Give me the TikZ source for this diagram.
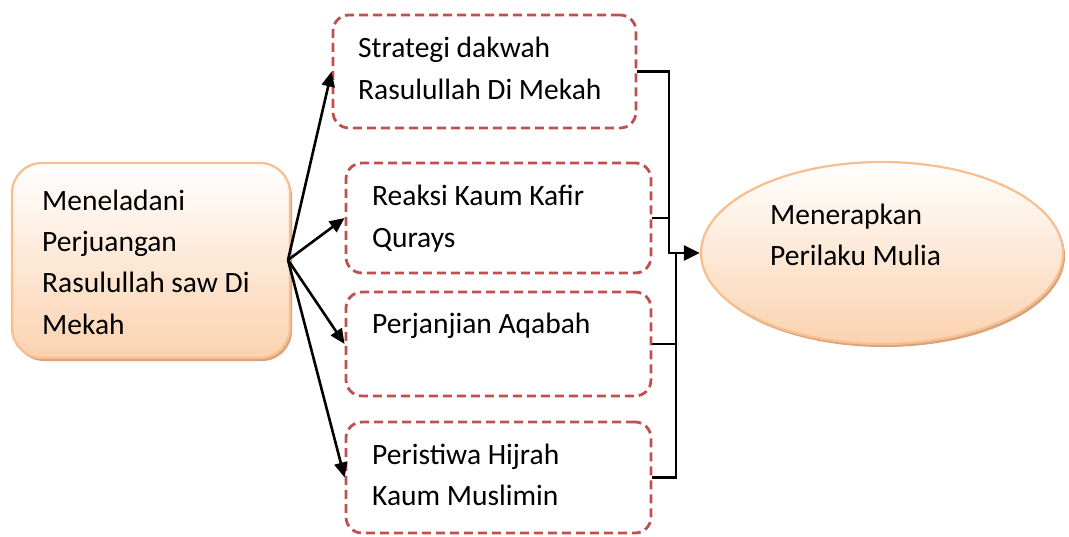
\documentclass[tikz,border=0pt]{standalone}
\usepackage{fontspec}
\setmainfont{Carlito}
\usetikzlibrary{shapes.geometric,arrows.meta,shadows}
\definecolor{dashred}{HTML}{C0504D}
\definecolor{peachline}{HTML}{F8BE8E}
\definecolor{peachfill}{HTML}{FBD2AF}
\definecolor{peachshadow}{HTML}{D6A37C}
\begin{document}
\begin{tikzpicture}[x=1pt,y=-1pt,
  peachbox/.style={draw=peachline, line width=2.2pt, top color=white, bottom color=peachfill,
    drop shadow={shadow xshift=2pt, shadow yshift=-3pt, fill=peachshadow, opacity=1}},
  dashbox/.style={draw=dashred, line width=2.8pt, dash pattern=on 9pt off 5pt, rounded corners=16pt, inner sep=0pt},
  lbl/.style={anchor=base west, inner sep=0pt, font=\fontsize{29.5}{41}\selectfont},
  arr/.style={line width=2.6pt, -{Triangle[length=15pt,width=13pt]}},
  brk/.style={line width=2.8pt},
  tick/.style={line width=1.8pt}]
\useasboundingbox (0,0) rectangle (1069,536);
% shapes
\node[peachbox, rounded corners=30pt, minimum width=278pt, minimum height=195pt, inner sep=0pt] (L) at (151,260.5) {};
\node[peachbox, ellipse, minimum width=362pt, minimum height=182pt, inner sep=0pt] (E) at (882,253) {};
\node[dashbox, minimum width=303pt, minimum height=113pt] (B1) at (484.5,71.5) {};
\node[dashbox, minimum width=305pt, minimum height=110pt] (B2) at (498.5,218) {};
\node[dashbox, minimum width=305pt, minimum height=104pt] (B3) at (498.5,344) {};
\node[dashbox, minimum width=305pt, minimum height=111pt] (B4) at (498.5,477.5) {};
% texts
\node[lbl] (t1) at (42,210) {Meneladani};
\node[lbl] (t2) at (42,251) {Perjuangan};
\node[lbl] (t3) at (42,292.5) {Rasulullah saw Di};
\node[lbl] (t4) at (42,334) {Mekah};
\node[lbl] (s1) at (358,57.5) {Strategi dakwah};
\node[lbl] (s2) at (358,99.5) {Rasulullah Di Mekah};
\node[lbl] (r1) at (372,205) {Reaksi Kaum Kafir};
\node[lbl] (r2) at (372,247) {Qurays};
\node[lbl] (p1) at (372,333) {Perjanjian Aqabah};
\node[lbl] (h1) at (372,464) {Peristiwa Hijrah};
\node[lbl] (h2) at (372,505) {Kaum Muslimin};
\node[lbl] (m1) at (770,224) {Menerapkan};
\node[lbl] (m2) at (770,265) {Perilaku Mulia};
% connectors
\coordinate (O) at (288,260);
\draw[arr] (O) -- (B1.west);
\draw[arr] (O) -- (B2.west);
\draw[arr] (O) -- (B3.west);
\draw[arr] (O) -- (B4.west);
\coordinate (J1) at (669,253);
\coordinate (J2) at (676,253);
\draw[brk, -{Triangle[length=16pt,width=15pt]}] (B1.east) -| (J1) -- (E.west);
\draw[brk] (B4.east) -| (J2);
\draw[tick] (B2.east) -- (B2.east -| J1);
\draw[tick] (B3.east) -- (B3.east -| J2);
\end{tikzpicture}
\end{document}
